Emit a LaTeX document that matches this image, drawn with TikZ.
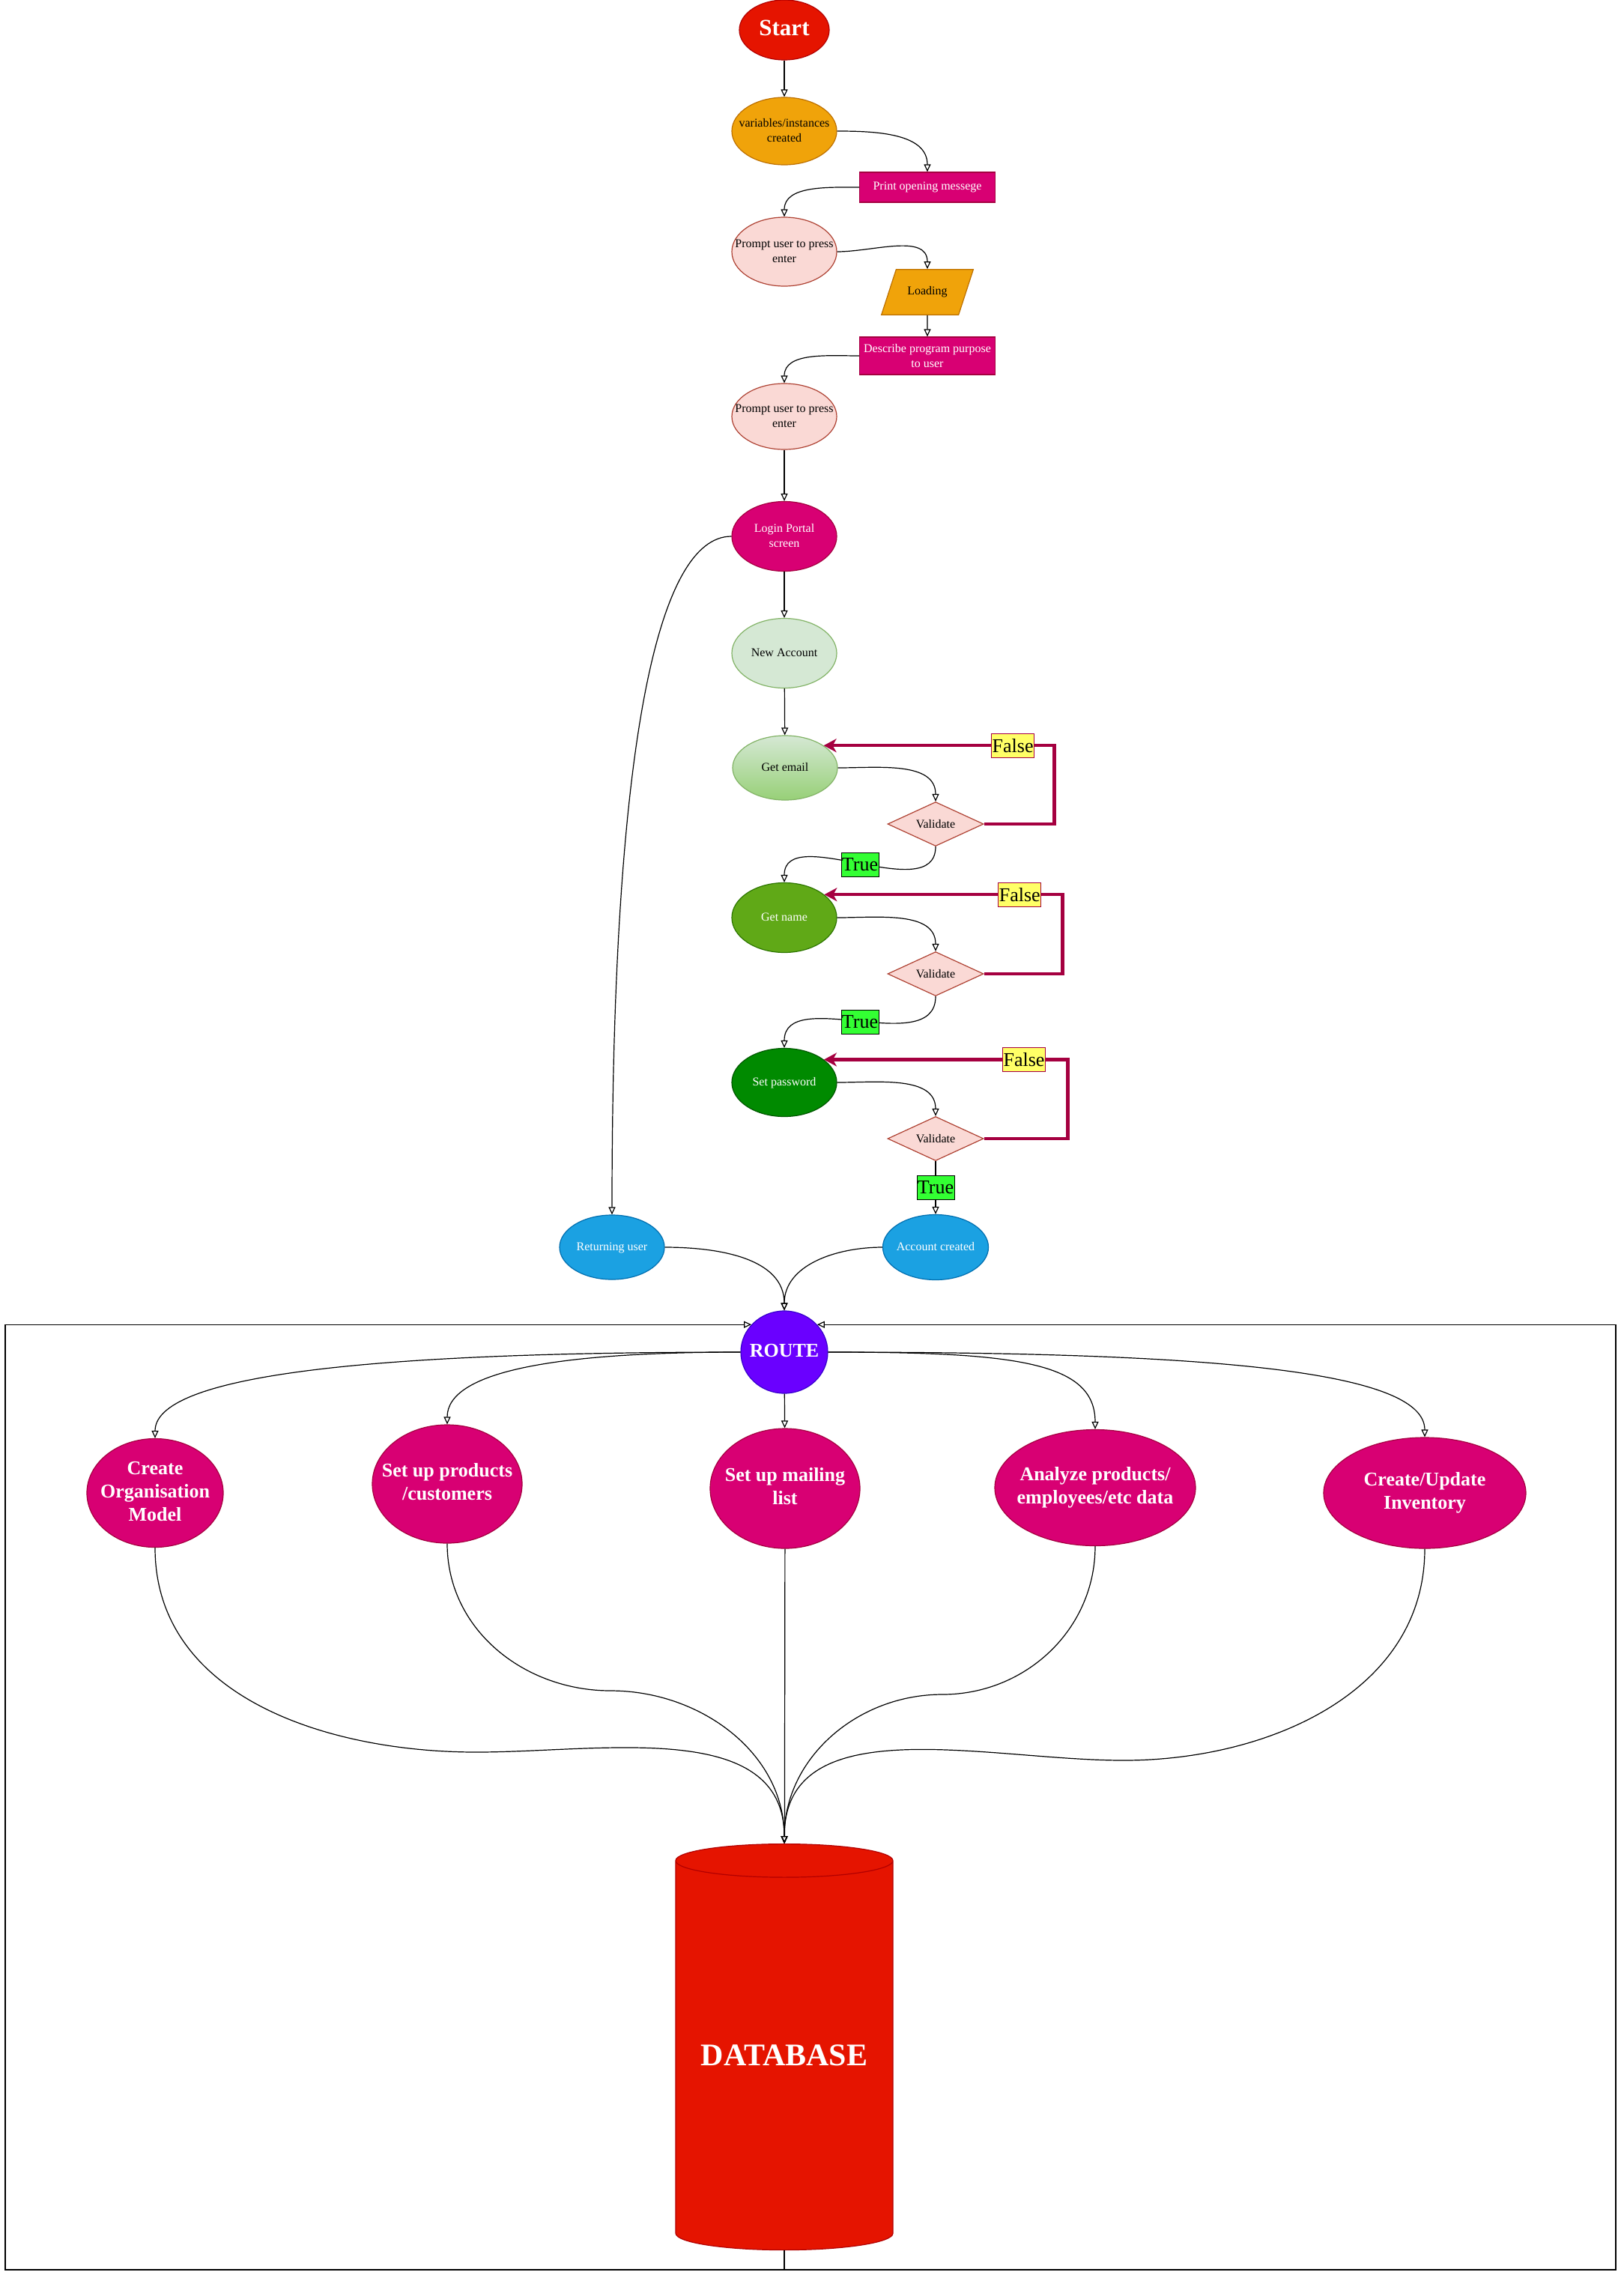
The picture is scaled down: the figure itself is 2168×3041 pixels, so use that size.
\documentclass[tikz,border=0pt]{standalone}
\usepackage{fontspec}
\setmainfont{Liberation Serif}
\usetikzlibrary{shapes.geometric,arrows.meta}

\definecolor{startred}{HTML}{E51400}
\definecolor{startline}{HTML}{B20000}
\definecolor{amber}{HTML}{F0A30A}
\definecolor{amberline}{HTML}{BD7000}
\definecolor{pinkfill}{HTML}{D80073}
\definecolor{pinkline}{HTML}{A50040}
\definecolor{blush}{HTML}{FAD9D5}
\definecolor{blushline}{HTML}{AE4132}
\definecolor{mint}{HTML}{D5E8D4}
\definecolor{mintdeep}{HTML}{97D077}
\definecolor{mintline}{HTML}{82B366}
\definecolor{leaf}{HTML}{60A917}
\definecolor{leafline}{HTML}{2D7600}
\definecolor{forest}{HTML}{008A00}
\definecolor{forestline}{HTML}{005700}
\definecolor{sky}{HTML}{1BA1E2}
\definecolor{skyline}{HTML}{006EAF}
\definecolor{routefill}{HTML}{6A00FF}
\definecolor{routeline}{HTML}{3700CC}
\definecolor{falsefill}{HTML}{FFFF66}
\definecolor{truefill}{HTML}{33FF33}

\newcommand{\lbl}[1]{\makebox[0pt]{\begin{tabular}{@{}c@{}}#1\end{tabular}}}

\begin{document}
\begin{tikzpicture}[x=1pt, y=-1pt,
    bubble/.style={ellipse, draw, line width=1.2pt, inner sep=0pt, minimum width=140pt, font=\fontsize{16}{20}\selectfont},
    panel/.style={rectangle, draw=pinkline, fill=pinkfill, text=white, line width=1.2pt, inner sep=0pt, align=center, minimum width=181pt, font=\fontsize{16}{20}\selectfont},
    check/.style={diamond, aspect=2.17, draw=blushline, fill=blush, line width=1.2pt, inner sep=0pt, minimum width=128pt, minimum height=59pt, font=\fontsize{16}{20}\selectfont},
    task/.style={ellipse, draw=pinkline, fill=pinkfill, text=white, line width=1.2pt, inner sep=0pt, font=\bfseries\fontsize{26}{31}\selectfont},
    flow/.style={line width=1.2pt, -{Triangle[open,length=10pt,width=9pt]}},
    retry/.style={draw=pinkline, line width=4.5pt, -{Stealth[length=17pt,width=18pt,inset=5pt]}},
    falsetag/.style={draw, fill=falsefill, line width=0.8pt, minimum height=32pt, inner xsep=1pt, inner ysep=0pt, font=\fontsize{26}{26}\selectfont},
    truetag/.style={falsetag, fill=truefill}]
\useasboundingbox (0,0) rectangle (2168,3041);
%    \draw[gray!30, step=100] (0,0) grid (2168,3041);

    \node[bubble, draw=startline, fill=startred, text=white, minimum width=120pt, minimum height=80pt, font=\bfseries\fontsize{31}{36}\selectfont] (start) at (1047,40) {\lbl{Start}};
    \node[bubble, draw=amberline, fill=amber, minimum height=90pt] (vars) at (1047,175) {\lbl{variables/instances\\created}};
    \node[panel, minimum height=40pt] (opening) at (1238,250) {Print opening messege};
    \node[bubble, draw=blushline, fill=blush, minimum height=92pt] (prompt1) at (1047,336) {\lbl{Prompt user to press\\enter}};
    \node[trapezium, trapezium left angle=72, trapezium right angle=108, draw=amberline, fill=amber, line width=1.2pt, inner xsep=15pt, inner ysep=23pt, font=\fontsize{16}{20}\selectfont] (loading) at (1238,390) {Loading};
    \node[panel, minimum height=50pt] (purpose) at (1238,475) {Describe program purpose\\to user};
    \node[bubble, draw=blushline, fill=blush, minimum height=88pt] (prompt2) at (1047,556) {\lbl{Prompt user to press\\enter}};

    % login and new account
    \node[bubble, draw=pinkline, fill=pinkfill, text=white, minimum height=93pt] (login) at (1047,716) {\lbl{Login Portal\\screen}};
    \node[bubble, draw=mintline, fill=mint, minimum height=93pt] (newacc) at (1047,872) {\lbl{New Account}};
    \node[bubble, draw=mintline, top color=mint, bottom color=mintdeep, minimum height=86pt] (email) at (1048,1025) {\lbl{Get email}};
    \node[check] (val1) at (1249,1100) {Validate};
    \node[bubble, draw=leafline, fill=leaf, text=white, minimum height=93pt] (getname) at (1047,1225) {\lbl{Get name}};
    \node[check] (val2) at (1249,1300) {Validate};
    \node[bubble, draw=forestline, fill=forest, text=white, minimum height=91pt] (setpw) at (1047,1445) {\lbl{Set password}};
    \node[check] (val3) at (1249,1520) {Validate};
    \node[bubble, draw=skyline, fill=sky, text=white, minimum height=86pt] (returning) at (817,1665) {\lbl{Returning user}};
    \node[bubble, draw=skyline, fill=sky, text=white, minimum width=141pt, minimum height=87pt] (account) at (1249,1665) {\lbl{Account created}};

    \node[bubble, draw=routeline, fill=routefill, text=white, minimum width=116pt, minimum height=110pt, font=\bfseries\fontsize{26}{31}\selectfont] (route) at (1047,1805) {\lbl{ROUTE}};

    % what the route leads to
    \node[task, minimum width=182pt, minimum height=145pt] (org) at (207,1993) {\lbl{Create\\Organisation\\Model}};
    \node[task, minimum width=200pt, minimum height=158pt] (products) at (597,1981) {\lbl{Set up products\\/customers}};
    \node[task, minimum width=200pt, minimum height=160pt] (mailing) at (1048,1987) {\lbl{Set up mailing\\list}};
    \node[task, minimum width=268pt, minimum height=155pt] (analyze) at (1462,1986) {\lbl{Analyze products/\\employees/etc data}};
    \node[task, minimum width=270pt, minimum height=148pt] (inventory) at (1902,1993) {\lbl{Create/Update\\Inventory}};

    \node[cylinder, shape border rotate=90, aspect=0.2, draw=startline, fill=startred, text=white, line width=1.2pt, minimum width=290pt, minimum height=542pt, inner sep=0pt, font=\bfseries\fontsize{42}{50}\selectfont] (db) at (1047,2744) {DATABASE};

    \coordinate (orgbend) at (636,2339);
    \coordinate (prodbend) at (815,2257);
    \coordinate (anbend) at (1258,2262);
    \coordinate (invbend) at (1500,2350);
    \coordinate (cornerL) at (7,3030);
    \coordinate (cornerR) at (2157,3030);

    % connectors
    \draw[flow] (start) -- (vars);
    \draw[flow] (vars.east) to[out=0,in=90] (opening.north);
    \draw[flow] (opening.west) to[out=180,in=90] (prompt1.north);
    \draw[flow] (prompt1.east) to[out=0,in=90] (loading.north);
    \draw[flow] (loading) -- (purpose);
    \draw[flow] (purpose.west) to[out=180,in=90] (prompt2.north);
    \draw[flow] (prompt2) -- (login);
    \draw[flow] (login) -- (newacc);
    \draw[flow] (login.west) .. controls +(-100,0) and +(0,-620) .. (returning.north);
    \draw[flow] (newacc) -- (email);

    \draw[flow] (email.east) to[out=0,in=90] (val1.north);
    \draw[flow] (val1.south) to[out=-90,in=90] node[truetag]{True} (getname.north);
    \draw[flow] (getname.east) to[out=0,in=90] (val2.north);
    \draw[flow] (val2.south) to[out=-90,in=90] node[truetag]{True} (setpw.north);
    \draw[flow] (setpw.east) to[out=0,in=90] (val3.north);
    \draw[flow] (val3) -- node[truetag]{True} (account);

    \draw[retry] (val1.east) -- ++(94,0) |- node[falsetag, pos=0.59]{False} (email.30);
    \draw[retry] (val2.east) -- ++(105,0) |- node[falsetag, pos=0.59]{False} (getname.30);
    \draw[retry] (val3.east) -- ++(112,0) |- node[falsetag, pos=0.59]{False} (setpw.30);

    \draw[flow] (returning.east) to[out=0,in=90] (route.north);
    \draw[flow] (account.west) to[out=180,in=90] (route.north);

    \draw[flow] (route.west) .. controls +(-450,0) and +(0,-90) .. (org.north);
    \draw[flow] (route.west) .. controls +(-250,0) and +(0,-70) .. (products.north);
    \draw[flow] (route) -- (mailing);
    \draw[flow] (route.east) .. controls +(250,0) and +(0,-90) .. (analyze.north);
    \draw[flow] (route.east) .. controls +(500,0) and +(0,-90) .. (inventory.north);

    \draw[flow] (org.south) to[out=-90,in=180] (orgbend) to[out=0,in=90] (db.north);
    \draw[flow] (products.south) to[out=-90,in=180] (prodbend) to[out=0,in=90] (db.north);
    \draw[flow] (mailing) -- (db);
    \draw[flow] (analyze.south) to[out=-90,in=0] (anbend) to[out=180,in=90] (db.north);
    \draw[flow] (inventory.south) to[out=-90,in=0] (invbend) to[out=180,in=90] (db.north);

    \draw[flow] (db.south) |- (cornerL) |- (route.140);
    \draw[flow] (db.south) |- (cornerR) |- (route.40);
\end{tikzpicture}
\end{document}
